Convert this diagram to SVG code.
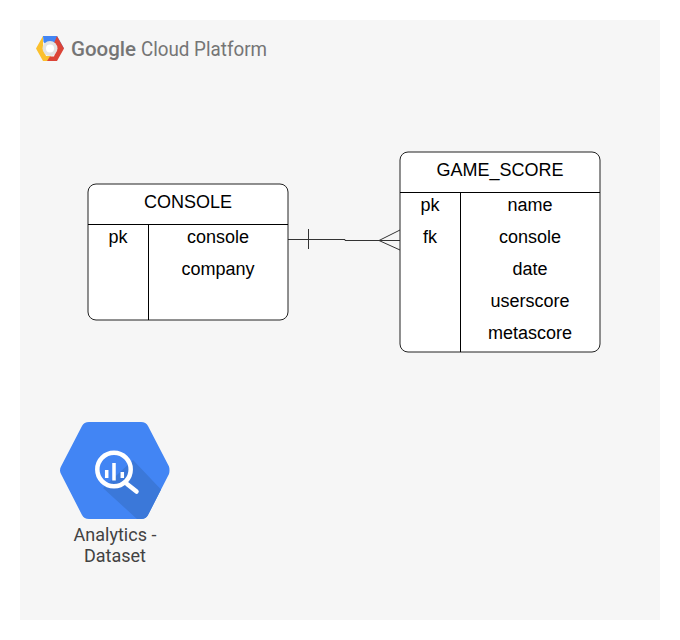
<svg xmlns="http://www.w3.org/2000/svg" width="680" height="640" viewBox="0 0 680 640">
<style>
.t{font-family:"Liberation Sans",Arial,sans-serif;font-size:18px;fill:#000;text-anchor:middle}
.e{fill:#fff;stroke:#222;stroke-width:1}
.l{fill:none;stroke:#000;stroke-width:1}
.c{fill:none;stroke:#333;stroke-width:1}
.g{font-family:"Roboto","Liberation Sans",sans-serif;fill:#757575}
.a{font-family:"Roboto","Liberation Sans",sans-serif;font-size:18px;fill:#424242;text-anchor:middle}
</style>
<rect width="680" height="640" fill="#fff"/>
<rect x="20" y="20" width="640" height="600" fill="#f6f6f6"/>
<g id="gcp-logo">
<path d="M43 36H57L64 48.500H50L43.500 42Z" fill="#4285f4"/>
<path d="M43 36L36 48.500L43 61H57L50 56H46L43 48.500Z" fill="#fbc02d"/>
<path d="M57 36L64 48.500L57 61H47L50 56.500H54L57 48.500L54 43Z" fill="#db4437"/>
<circle cx="50" cy="48.500" r="7.500" fill="#e3e3e3"/>
<circle cx="50" cy="48.500" r="4" fill="#fff"/>
<text class="g" x="71" y="56" font-size="20.500" font-weight="500" textLength="65" lengthAdjust="spacingAndGlyphs">Google</text>
<text class="g" x="141" y="56" font-size="20" textLength="126" lengthAdjust="spacingAndGlyphs">Cloud Platform</text>
</g>
<g id="connectors">
<path class="c" d="M288 239.500H345V240.500H400"/>
<path class="c" d="M308.500 229V249"/>
<path class="c" d="M379 240.500L400 230M379 240.500L400 250"/>
</g>
<g id="console">
<rect class="e" x="88" y="184" width="200" height="136" rx="8"/>
<path class="l" d="M88 224.500H288M148.500 224.500V320"/>
<text class="t" x="188" y="207.500">CONSOLE</text>
<text class="t" x="118" y="243">pk</text>
<text class="t" x="218" y="243">console</text>
<text class="t" x="218" y="275">company</text>
</g>
<g id="game-score">
<rect class="e" x="400" y="152" width="200" height="200" rx="8"/>
<path class="l" d="M400 192.500H600M460.500 192.500V352"/>
<text class="t" x="500" y="175.500">GAME_SCORE</text>
<text class="t" x="430" y="211">pk</text>
<text class="t" x="530" y="211">name</text>
<text class="t" x="430" y="243">fk</text>
<text class="t" x="530" y="243">console</text>
<text class="t" x="530" y="275">date</text>
<text class="t" x="530" y="307">userscore</text>
<text class="t" x="530" y="339">metascore</text>
</g>
<g id="analytics-dataset">
<path d="M60 470.500Q60 468 61 466.500L82 426Q84 422 89 422H141Q146 422 148 426L169 466.500Q170 470 169 474L148 515Q146 519 141 519H89Q84 519 82 515L61 474Q60 472 60 470.500Z" fill="#4285f4"/>
<path d="M133 460L161 489.500L148 515Q146 519 141 519H137L103 488Z" fill="#3b78d9"/>
<circle cx="114" cy="469.500" r="16.700" fill="none" stroke="#fff" stroke-width="4.500"/>
<path d="M127 484L136.500 491.500" stroke="#fff" stroke-width="4.500" stroke-linecap="round"/>
<path d="M106.700 470V478M114 463V480.500M122.300 472V478" stroke="#fff" stroke-width="3.500" fill="none"/>
<text class="a" x="115" y="541">Analytics -</text>
<text class="a" x="115" y="562">Dataset</text>
</g>
</svg>
